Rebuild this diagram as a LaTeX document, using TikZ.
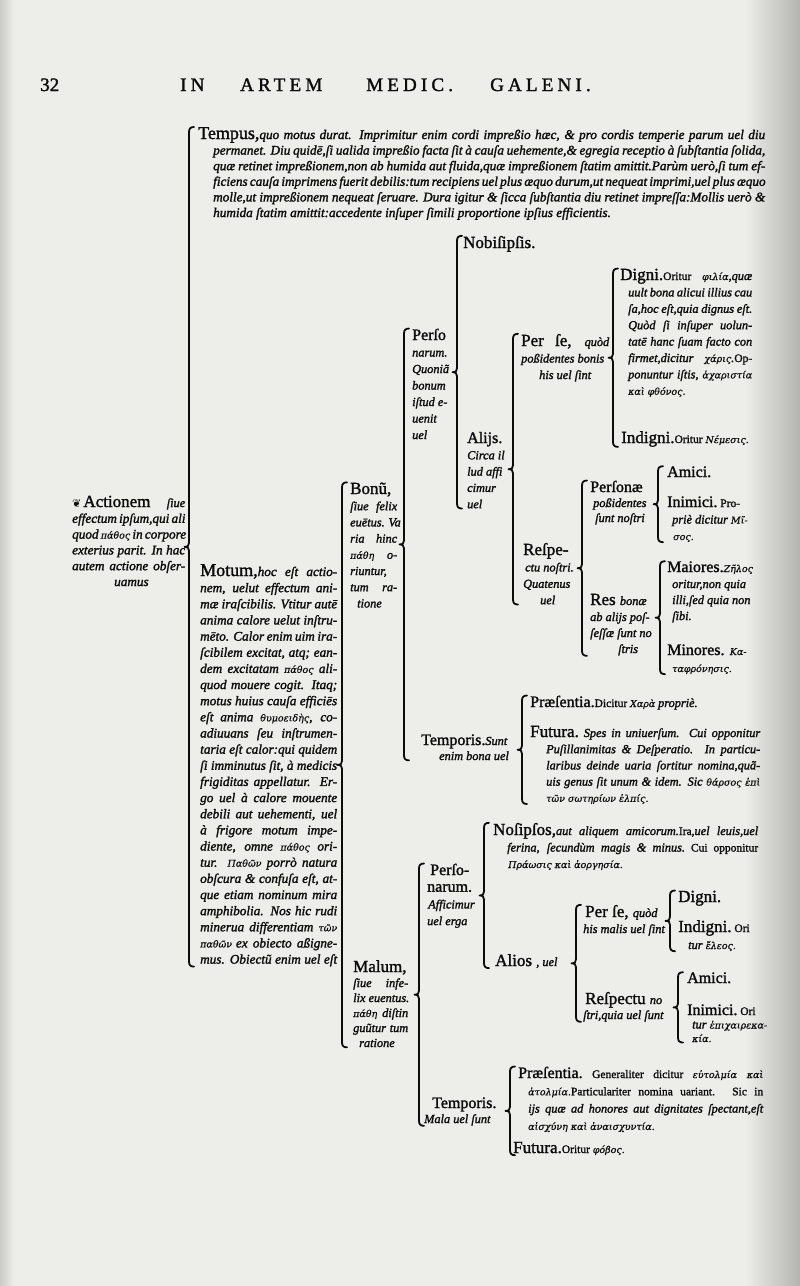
\documentclass[tikz,border=0pt]{standalone}
\usepackage{fontspec}
\setmainfont{Liberation Serif}
\newfontfamily\rmH{Liberation Serif}[FakeBold=1.6]
\newfontfamily\itB{Liberation Serif}[UprightFont={* Italic},FakeBold=1.8]
\newfontfamily\hdrF{Liberation Serif}[LetterSpace=22,FakeBold=1.6]
\newfontfamily\grk{DejaVu Serif}[UprightFont={* Italic},FakeBold=0.6]
\newfontfamily\orn{DejaVu Sans}
\usetikzlibrary{calc}
\definecolor{ink}{RGB}{12,12,12}
\definecolor{paper}{RGB}{237,237,234}
\definecolor{edge}{RGB}{180,180,177}
\newcommand\hw[1][17]{\rmH\fontsize{#1}{#1}\selectfont}
\newcommand\hdr{\hdrF\fontsize{19}{19}\selectfont}
\newcommand\bi{\itB\fontsize{13.2}{13.2}\selectfont}
\newcommand\sm{\itB\fontsize{12.3}{12.3}\selectfont}
\newcommand\sr{\rmH\fontsize{11.5}{11.5}\selectfont}
\newcommand\gk{\grk\fontsize{9.5}{9.5}\selectfont}
\newcommand\Jn[3][0]{\hbox{\hskip#1pt\relax\hbox to #2pt{#3}}}
\newcommand\Ln[2][0]{\hbox{\hskip#1pt\relax #2}}
\newcommand\blk[2]{\vtop{\baselineskip=#1pt\lineskiplimit=-\maxdimen #2}}
\newcommand\Brk[4][8]{%
  \coordinate (#2t) at ([xshift=-#1pt]#3.north west);
  \coordinate (#2b) at (#2t |- #4.south);
  \draw[brace] let \p1=(#2t), \p2=(#2b), \p3=($(#2t)!0.5!(#2b)$) in
    (\x1+5pt,\y1) .. controls (\x1+1.5pt,\y1) and (\x1,\y1-1.5pt) .. (\x1,\y1-5pt)
    -- (\x1,\y3+4pt) .. controls (\x1,\y3+1.2pt) and (\x1-1.2pt,\y3) .. (\x1-4.5pt,\y3)
    .. controls (\x1-1.2pt,\y3) and (\x1,\y3-1.2pt) .. (\x1,\y3-4pt)
    -- (\x1,\y2+5pt) .. controls (\x1,\y2+1.5pt) and (\x1+1.5pt,\y2) .. (\x1+5pt,\y2);}
\tikzset{brace/.style={draw=ink,line width=1.8pt,line cap=round,line join=round}}
\begin{document}
\begin{tikzpicture}[x=1pt,y=-1pt,every node/.style={inner sep=0pt,text=ink,anchor=base west}]
\useasboundingbox (0,0) rectangle (800,1286);
\fill[paper] (0,0) rectangle (800,1286);
\shade[left color=paper,right color=edge] (745,0) rectangle (800,1286);
\shade[left color=edge!60!paper,right color=paper] (0,0) rectangle (14,1286);
% header
\node (pg) at (40,91) {\hw[19]32};
\node (h1) at (180,91) {\hdr IN};
\node (h2) at (240,91) {\hdr ARTEM};
\node (h3) at (366,91) {\hdr MEDIC.};
\node (h4) at (490,91) {\hdr GALENI.};
% level 0
\node (actio) at (72,507) {\blk{15.8}{%
\Jn{113}{{\orn\fontsize{11}{11}\selectfont ❦}\hskip2pt\hw Actionem \sm ſiue}
\Jn{113}{\bi effectum ipſum,qui ali}
\Jn{113}{\bi quod {\gk πάθος} in corpore}
\Jn{113}{\bi exterius parit. In hac}
\Jn{113}{\bi autem actione obſer-}
\Ln[42]{\bi uamus}}};
% level 1
\node (tempus) at (198,139) {\blk{15.6}{%
\Jn{567}{\hw[18]Tempus,\bi quo motus durat. Imprimitur enim cordi impreßio hæc, \& pro cordis temperie parum uel diu}
\Jn[15]{552}{\bi permanet. Diu quidē,ſi ualida impreßio facta ſit à cauſa uehemente,\& egregia receptio à ſubſtantia ſolida,}
\Jn[15]{552}{\bi quæ retinet impreßionem,non ab humida aut fluida,quæ impreßionem ſtatim amittit.Parùm uerò,ſi tum ef-}
\Jn[15]{552}{\bi ficiens cauſa imprimens fuerit debilis:tum recipiens uel plus æquo durum,ut nequeat imprimi,uel plus æquo}
\Jn[15]{552}{\bi molle,ut impreßionem nequeat ſeruare. Dura igitur \& ſicca ſubſtantia diu retinet impreſſa:Mollis uerò \&}
\Ln[15]{\bi humida ſtatim amittit:accedente inſuper ſimili proportione ipſius efficientis.}}};
\node (motum) at (200,576) {\blk{16.15}{%
\Jn{137}{\hw[18]Motum,\bi hoc eſt actio-}
\Jn{137}{\bi nem, uelut effectum ani-}
\Jn{137}{\bi mæ iraſcibilis. Vtitur autē}
\Jn{137}{\bi anima calore uelut inſtru-}
\Jn{137}{\bi mēto. Calor enim uim ira-}
\Jn{137}{\bi ſcibilem excitat, atq; ean-}
\Jn{137}{\bi dem excitatam {\gk πάθος} ali-}
\Jn{137}{\bi quod mouere cogit. Itaq;}
\Jn{137}{\bi motus huius cauſa efficiēs}
\Jn{137}{\bi eſt anima {\gk θυμοειδὴς}, co-}
\Jn{137}{\bi adiuuans ſeu inſtrumen-}
\Jn{137}{\bi taria eſt calor:qui quidem}
\Jn{137}{\bi ſi imminutus ſit, à medicis}
\Jn{137}{\bi frigiditas appellatur. Er-}
\Jn{137}{\bi go uel à calore mouente}
\Jn{137}{\bi debili aut uehementi, uel}
\Jn{137}{\bi à frigore motum impe-}
\Jn{137}{\bi diente, omne {\gk πάθος} ori-}
\Jn{137}{\bi tur. {\gk Παθῶν} porrò natura}
\Jn{137}{\bi obſcura \& confuſa eſt, at-}
\Jn{137}{\bi que etiam nominum mira}
\Jn{137}{\bi amphibolia. Nos hic rudi}
\Jn{137}{\bi minerua differentiam {\gk τῶν}}
\Jn{137}{{\gk παθῶν} \bi ex obiecto aßigne-}
\Jn{137}{\bi mus. Obiectũ enim uel eſt}}};
% level 2
\node (bonum) at (350,494) {\blk{16.2}{%
\Ln{\hw Bonũ,}
\Jn{47}{\sm ſiue felix}
\Jn{47}{\sm euētus. Va}
\Jn{47}{\sm ria hinc}
\Jn{47}{{\gk πάθη} \sm o-}
\Ln{\sm riuntur,}
\Jn{47}{\sm tum ra-}
\Ln[7]{\sm tione}}};
\node (malum) at (353,972) {\blk{15}{%
\Ln{\hw Malum,}
\Jn{55}{\sm ſiue infe-}
\Ln{\sm lix euentus.}
\Jn{55}{{\gk πάθη} \sm diſtin}
\Jn{55}{\sm guũtur tum}
\Ln[6]{\sm ratione}}};
% bonum branch
\node (persoB) at (412,340) {\blk{16.5}{%
\Ln{\hw[16]Perſo}
\Ln{\sm narum.}
\Ln{\sm Quoniã}
\Ln{\sm bonum}
\Ln{\sm iſtud e-}
\Ln{\sm uenit}
\Ln{\sm uel}}};
\node (tempB) at (421,745) {\blk{15}{%
\Ln{\hw[16]Temporis.\sm Sunt}
\Ln[18]{\sm enim bona uel}}};
\node (nobis) at (463,248) {\hw Nobiſipſis.};
\node (alijs) at (467,443) {\blk{16.3}{%
\Ln{\hw[16]Alijs.}
\Ln{\sm Circa il}
\Ln{\sm lud affi}
\Ln{\sm cimur}
\Ln{\sm uel}}};
\node (perseB) at (521,346) {\blk{16.5}{%
\Jn{88}{\hw Per ſe, \sm quòd}
\Ln{\sm poßidentes bonis}
\Ln[18]{\sm his uel ſint}}};
\node (respe) at (523,555) {\blk{16.4}{%
\Ln{\hw Reſpe-}
\Ln[2]{\sm ctu noſtri.}
\Ln{\sm Quatenus}
\Ln[17]{\sm uel}}};
\node (digni) at (620,280) {\blk{16.4}{%
\Jn{132}{\hw Digni.\sr Oritur {\gk φιλία}\sm,quæ}
\Jn[8]{124}{\sm uult bona alicui illius cau}
\Jn[8]{124}{\sm ſa,hoc eſt,quia dignus eſt.}
\Jn[8]{124}{\sm Quòd ſi inſuper uolun-}
\Jn[8]{124}{\sm tatē hanc ſuam facto con}
\Jn[8]{124}{\sm firmet,dicitur {\gk χάρις}.\sr Op-}
\Jn[8]{124}{\sm ponuntur iſtis, {\gk ἀχαριστία}}
\Ln[8]{\gk καὶ φθόνος.}}};
\node (indigni) at (621,443) {\hw Indigni.\sr Oritur {\gk Νέμεσις.}};
\node (personae) at (590,492) {\blk{15}{%
\Ln{\hw[16]Perſonæ}
\Ln[3]{\sm poßidentes}
\Ln[5]{\sm ſunt noſtri}}};
\node (res) at (590,605) {\blk{16}{%
\Ln{\hw Res \sm bonæ}
\Ln{\sm ab alijs poſ-}
\Ln{\sm ſeſſæ ſunt no}
\Ln[28]{\sm ſtris}}};
\node (amici) at (667,477) {\hw[16]Amici.};
\node (inimici) at (667,507) {\blk{16.5}{%
\Ln{\hw[16]Inimici.\sr\ Pro-}
\Ln[5]{\sm priè dicitur {\gk Μῖ-}}
\Ln[6]{\gk σος.}}};
\node (maiores) at (667,572) {\blk{16}{%
\Ln{\hw[16]Maiores.{\gk Ζῆλος}}
\Ln[5]{\sm oritur,non quia}
\Ln[5]{\sm illi,ſed quia non}
\Ln[5]{\sm ſibi.}}};
\node (minores) at (667,655) {\blk{17}{%
\Ln{\hw[16]Minores. {\gk Κα-}}
\Ln[5]{\gk ταφρόνησις.}}};
\node (praesB) at (530,707) {\hw[16]Præſentia.\sr Dicitur {\gk Χαρὰ} \sm propriè.};
\node (futB) at (530,737) {\blk{16.2}{%
\Jn{230}{\hw Futura.\sm\ Spes in uniuerſum. Cui opponitur}
\Jn[16]{214}{\sm Puſillanimitas \& Deſperatio. In particu-}
\Jn[16]{214}{\sm laribus deinde uaria ſortitur nomina,quã-}
\Jn[16]{214}{\sm uis genus ſit unum \& idem. Sic {\gk θάρσος ἐπὶ}}
\Ln[16]{\gk τῶν σωτηρίων ἐλπίς.}}};
% malum branch
\node (persoM) at (430,875) {\blk{16.7}{%
\Ln{\hw[16]Perſo-}
\Ln[-3]{\hw[16]narum.}
\Ln[-2]{\sm Afficimur}
\Ln[-3]{\sm uel erga}}};
\node (tempM) at (432,1108) {\blk{15}{%
\Ln{\hw[16]Temporis.}
\Ln[-8]{\sm Mala uel ſunt}}};
\node (nosips) at (493,835) {\blk{16.5}{%
\Jn{265}{\hw Noſipſos,\sm aut aliquem amicorum.\sr Ira,\sm uel leuis,uel}
\Jn[14]{251}{\sm ferina, ſecundùm magis \& minus.\sr\ Cui opponitur}
\Ln[15]{\gk Πράωσις καὶ ἀοργησία.}}};
\node (alios) at (495,966) {\hw Alios {\sm, uel}};
\node (perseM) at (585,917) {\blk{16}{%
\Ln{\hw Per ſe, \sm quòd}
\Ln[-2]{\sm his malis uel ſint}}};
\node (respM) at (583,1004) {\blk{15}{%
\Ln[2]{\hw Reſpectu \sm no}
\Ln{\sm ſtri,quia uel ſunt}}};
\node (digniM) at (678,902) {\hw Digni.};
\node (indigniM) at (678,932) {\blk{17}{%
\Ln{\hw Indigni.\sr\ Ori}
\Ln[10]{\sm tur {\gk ἔλεος.}}}};
\node (amiciM) at (687,983) {\hw[16]Amici.};
\node (inimiciM) at (687,1015) {\blk{13.5}{%
\Ln{\hw[16]Inimici.\sr\ Ori}
\Ln[5]{\sm tur {\gk ἐπιχαιρεκα-}}
\Ln[5]{\gk κία.}}};
\node (praesM) at (518,1078) {\blk{17.3}{%
\Jn{245}{\hw[16]Præſentia.\sr\ Generaliter dicitur {\gk εὐτολμία καὶ}}
\Jn[10]{235}{{\gk ἀτολμία.}\sr Particulariter nomina uariant. Sic in}
\Jn[10]{235}{\sm ijs quæ ad honores aut dignitates ſpectant,eſt}
\Ln[10]{\gk αἰσχύνη καὶ ἀναισχυντία.}}};
\node (futM) at (513,1153) {\hw Futura.\sr Oritur {\gk φόβος.}};
% brackets
\Brk[9]{bA}{tempus}{motum}
\Brk{bB}{bonum}{malum}
\Brk{bC}{persoB}{tempB}
\Brk[6]{bD}{nobis}{alijs}
\Brk{bE}{perseB}{respe}
\Brk[7]{bF}{digni}{indigni}
\Brk{bG}{personae}{res}
\Brk[9]{bH}{amici}{inimici}
\Brk[7]{bI}{maiores}{minores}
\Brk{bJ}{praesB}{futB}
\Brk[11]{bK}{persoM}{tempM}
\Brk[9]{bL}{nosips}{alios}
\Brk[9]{bM}{perseM}{respM}
\Brk{bN}{digniM}{indigniM}
\Brk[9]{bO}{amiciM}{inimiciM}
\Brk{bP}{praesM}{futM}
\end{tikzpicture}
\end{document}
